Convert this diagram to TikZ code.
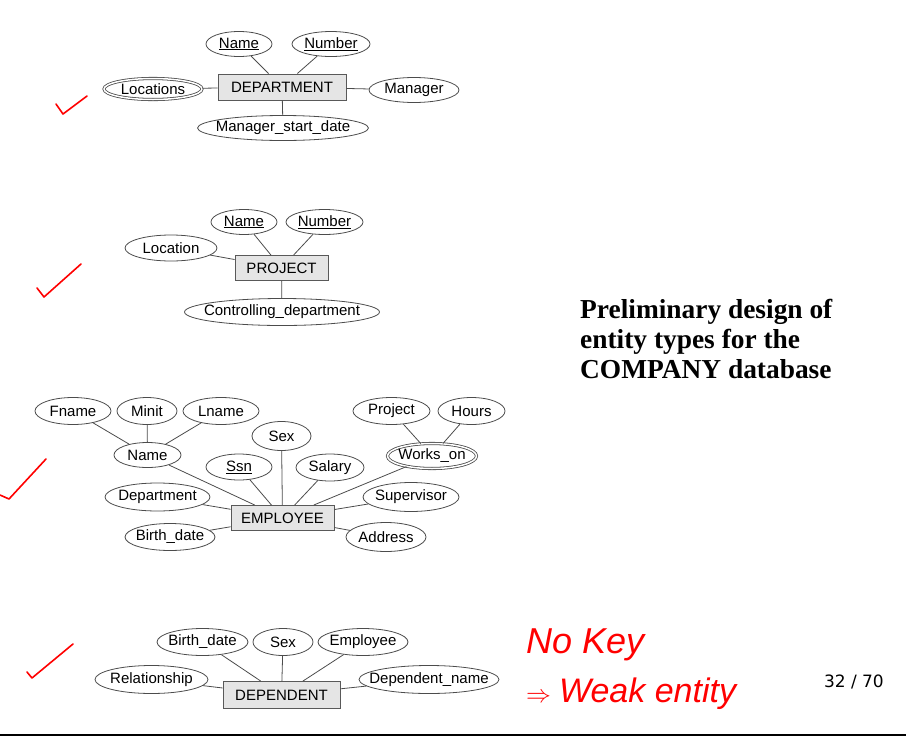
\documentclass[tikz,border=0pt]{standalone}
\usepackage{fontspec}
\setmainfont{Liberation Sans}
\newfontfamily\titlefont{Liberation Serif}
\newfontfamily\pagefont{DejaVu Sans}
\usetikzlibrary{shapes.geometric}

\begin{document}
\begin{tikzpicture}[x=1pt, y=-1pt, font=\fontsize{15}{18}\selectfont,
	entity/.style={draw=black!65, fill=gray!20, line width=0.9pt, minimum height=26pt, inner sep=0pt},
	attr/.style={ellipse, draw=black!70, line width=0.8pt, minimum height=26pt, inner xsep=-30pt, inner ysep=-8pt},
	multi/.style={attr, double, double distance=1.5pt},
	link/.style={draw=black!70, line width=0.8pt},
	note/.style={red, font=\itshape\fontsize{34}{38}\selectfont, anchor=base west, inner sep=0pt},
	tick/.style={red, line width=1.6pt, line cap=round, line join=round}]
	
	\useasboundingbox (0,0) rectangle (906,737);
	
	% DEPARTMENT
	\node[entity, minimum width=128pt] (dept) at (282,87) {DEPARTMENT};
	\node[attr, minimum width=66pt, minimum height=25pt] (deptName) at (239,44) {\underline{Name}};
	\node[attr, minimum width=78pt, minimum height=25pt] (deptNumber) at (331,44) {\underline{Number}};
	\node[multi, minimum width=98pt, minimum height=21pt] (deptLocs) at (153,89) {Locations};
	\node[attr, minimum width=90pt, minimum height=25pt] (deptManager) at (414,90) {Manager};
	\node[attr, minimum width=171pt, minimum height=25pt] (deptStart) at (283,128) {Manager\_start\_date};
	
	\foreach \a in {deptName, deptNumber, deptLocs, deptManager, deptStart}
		\draw[link] (\a) -- (dept);
	
	% PROJECT
	\node[entity, minimum width=93pt, minimum height=25pt] (proj) at (281.5,268) {PROJECT};
	\node[attr, minimum width=66pt, minimum height=25pt] (projName) at (244,222) {\underline{Name}};
	\node[attr, minimum width=77pt, minimum height=25pt] (projNumber) at (324.5,222) {\underline{Number}};
	\node[attr, minimum width=92pt] (projLoc) at (171,248) {Location};
	\node[attr, minimum width=195pt, minimum height=27pt] (projCtrl) at (282,312) {Controlling\_department};
	
	\foreach \a in {projName, projNumber, projLoc, projCtrl}
		\draw[link] (\a) -- (proj);
	
	% EMPLOYEE
	\node[entity, minimum width=103pt, minimum height=25pt] (emp) at (282.5,518) {EMPLOYEE};
	\node[attr, minimum width=76pt, minimum height=27pt] (empFname) at (73,411) {Fname};
	\node[attr, minimum width=60pt, minimum height=27pt] (empMinit) at (147,411) {Minit};
	\node[attr, minimum width=76pt, minimum height=27pt] (empLname) at (221,411) {Lname};
	\node[attr, minimum width=67pt, minimum height=25pt] (empName) at (147.5,455) {Name};
	\node[attr, minimum width=59pt, minimum height=29pt] (empSex) at (281.5,436) {Sex};
	\node[attr, minimum width=66pt, minimum height=26pt] (empSsn) at (239,467) {\underline{Ssn}};
	\node[attr, minimum width=68pt, minimum height=27pt] (empSalary) at (330,467.5) {Salary};
	\node[attr, minimum width=77pt, minimum height=27pt] (empProject) at (391.5,411) {Project};
	\node[attr, minimum width=67pt, minimum height=27pt] (empHours) at (471.5,411) {Hours};
	\node[multi, minimum width=89pt, minimum height=25pt] (empWorks) at (432,456) {Works\_on};
	\node[attr, minimum width=105pt, minimum height=28pt] (empDept) at (157.5,497) {Department};
	\node[attr, minimum width=96pt, minimum height=29pt] (empSuper) at (411,497) {Supervisor};
	\node[attr, minimum width=90pt, minimum height=27pt] (empBirth) at (170,537) {Birth\_date};
	\node[attr, minimum width=80pt, minimum height=29pt] (empAddr) at (386,537) {Address};
	
	\foreach \a/\b in {empFname/empName, empMinit/empName, empLname/empName,
		empProject/empWorks, empHours/empWorks}
		\draw[link] (\a) -- (\b);
	\foreach \a in {empName, empSsn, empSex, empSalary, empWorks, empDept, empSuper, empBirth, empAddr}
		\draw[link] (\a) -- (emp);
	
	% DEPENDENT
	\node[entity, minimum width=117pt, minimum height=27pt] (depd) at (281.5,695) {DEPENDENT};
	\node[attr, minimum width=91pt, minimum height=27pt] (depdBirth) at (202.5,642) {Birth\_date};
	\node[attr, minimum width=60pt, minimum height=27pt] (depdSex) at (283,642) {Sex};
	\node[attr, minimum width=90pt, minimum height=27pt] (depdEmp) at (363,642) {Employee};
	\node[attr, minimum width=113pt, minimum height=28pt] (depdRel) at (151.5,679.5) {Relationship};
	\node[attr, minimum width=140pt, minimum height=28pt] (depdName) at (429,679.5) {Dependent\_name};
	
	\foreach \a in {depdBirth, depdSex, depdEmp, depdRel, depdName}
		\draw[link] (\a) -- (depd);
	
	% caption, notes, page
	\node[font=\titlefont\bfseries\fontsize{27.4}{30}\selectfont, align=left, anchor=north west, inner sep=0pt]
		(title) at (580,299) {Preliminary design of\\entity types for the\\COMPANY database};
	\node[note, font=\itshape\fontsize{36}{40}\selectfont] (note1) at (526,653) {No Key};
	\node[note] (note2) at (526,702) {$\Rightarrow$\hspace{8pt}Weak entity};
	\node[font=\pagefont\fontsize{17}{20}\selectfont, anchor=base east, inner sep=0pt] (page) at (884,687) {32 / 70};
	
	% ticks
	\draw[tick] (56,104) -- (63,114) -- (87,96);
	\draw[tick] (37,288) -- (44,297) -- (81,264);
	\draw[tick] (0,495) -- (9,499) -- (46,459);
	\draw[tick] (27,672) -- (32,678) -- (73,644);
	
	\draw[line width=2pt] (0,735) -- (906,735);
	
\end{tikzpicture}
\end{document}
